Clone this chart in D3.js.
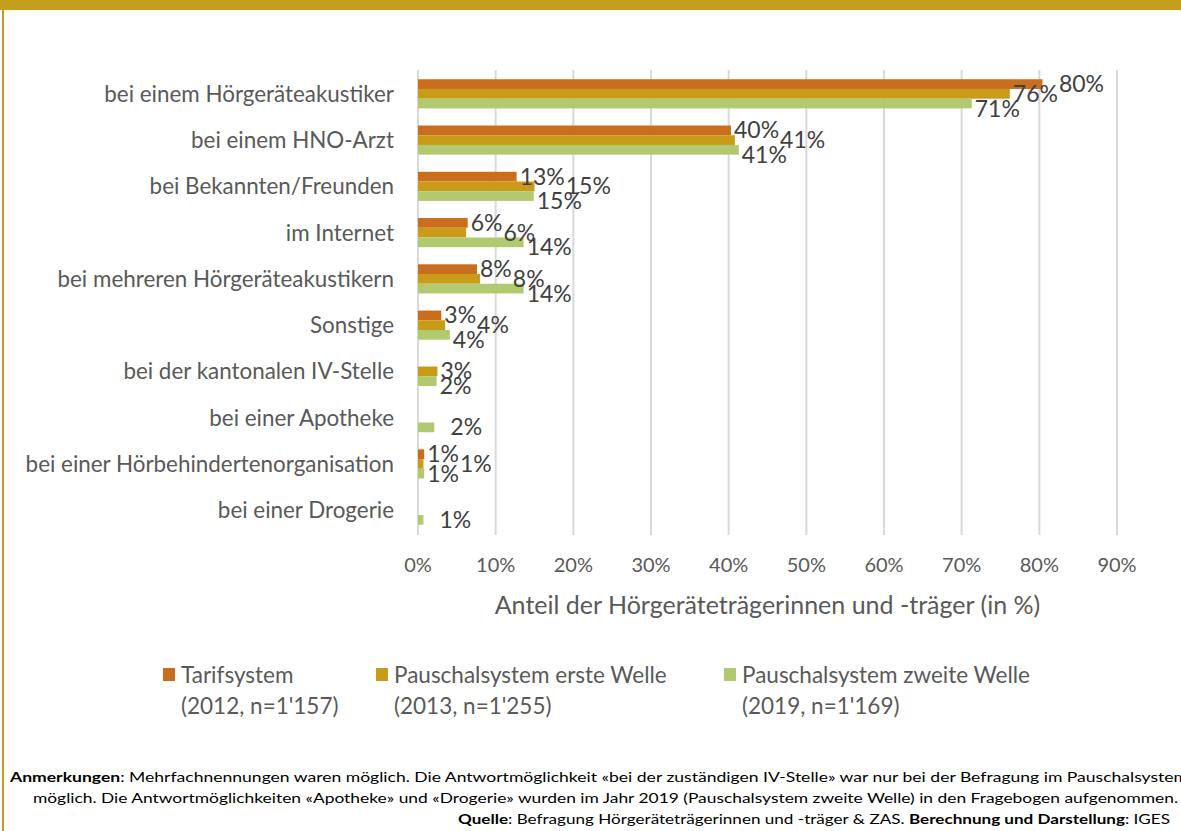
<!DOCTYPE html>
<html>
<head>
<meta charset="utf-8">
<script src="https://cdn.jsdelivr.net/npm/d3@7"></script>
<style>
  body { margin: 0; background: #fff; overflow: hidden; }
  svg { display: block; }
  svg text { font-family: Lato, "Open Sans", sans-serif; }
</style>
</head>
<body>
<svg id="chart" width="1181" height="831"></svg>
<script>
// categories (top to bottom)
const categories = [
  "bei einem Hörgeräteakustiker",
  "bei einem HNO-Arzt",
  "bei Bekannten/Freunden",
  "im Internet",
  "bei mehreren Hörgeräteakustikern",
  "Sonstige",
  "bei der kantonalen IV-Stelle",
  "bei einer Apotheke",
  "bei einer Hörbehindertenorganisation",
  "bei einer Drogerie"
];

// values in %, null = not asked
const tarifsystem = [80.4, 40.3, 12.7, 6.4, 7.6, 3.0, null, null, 0.8, null];
const pauschalErste = [76.2, 40.8, 15.0, 6.2, 8.0, 3.5, 2.5, null, 0.7, null];
const pauschalZweite = [71.3, 41.3, 14.9, 13.6, 13.6, 4.1, 2.4, 2.1, 0.8, 0.7];

const seriesNames = ["Tarifsystem", "Pauschalsystem erste Welle", "Pauschalsystem zweite Welle"];
const seriesSub = ["(2012, n=1'157)", "(2013, n=1'255)", "(2019, n=1'169)"];
const seriesColors = ["#C96D1F", "#C99B19", "#B1CA6F"];
const xTicks = [0, 10, 20, 30, 40, 50, 60, 70, 80, 90];

const svg = d3.select("#chart");

// frame
svg.append("rect").attr("x", 0).attr("y", 0).attr("width", 1181).attr("height", 831).attr("fill", "#fff");
svg.append("rect").attr("x", 0).attr("y", 0).attr("width", 1181).attr("height", 10).attr("fill", "#C39F1C");
svg.append("rect").attr("x", 2).attr("y", 10).attr("width", 2).attr("height", 821).attr("fill", "#C39F1C");

const x = d3.scaleLinear().domain([0, 90]).range([418, 1117]);
const y = d3.scaleBand().domain(categories).range([70, 534]).paddingInner(0.37).paddingOuter(0.2);
const ySub = d3.scaleBand().domain([0, 1, 2]).range([0, y.bandwidth()]);

// gridlines
svg.append("g").selectAll("line").data(xTicks).join("line")
  .attr("x1", d => x(d)).attr("x2", d => x(d))
  .attr("y1", 70).attr("y2", 535)
  .attr("stroke", "#D9D9D9").attr("stroke-width", 2);

// tick labels
svg.append("g").selectAll("text").data(xTicks).join("text")
  .attr("x", d => x(d)).attr("y", 572)
  .attr("text-anchor", "middle")
  .attr("font-size", 20).attr("fill", "#595959")
  .text(d => d + "%");

// axis title
svg.append("text")
  .attr("x", (x(0) + x(90)) / 2).attr("y", 614)
  .attr("text-anchor", "middle")
  .attr("font-size", 25).attr("fill", "#595959")
  .text("Anteil der Hörgeräteträgerinnen und -träger (in %)");

// category labels
svg.append("g").selectAll("text").data(categories).join("text")
  .attr("x", 394).attr("y", d => y(d) + y.bandwidth() / 2 + 8)
  .attr("text-anchor", "end")
  .attr("font-size", 22.4).attr("fill", "#595959")
  .text(d => d);

// bars
const allSeries = [tarifsystem, pauschalErste, pauschalZweite];
const bars = [];
allSeries.forEach((vals, s) => {
  vals.forEach((v, i) => {
    if (v !== null) bars.push({ s, i, v, cat: categories[i] });
  });
});

svg.append("g").selectAll("rect").data(bars).join("rect")
  .attr("x", x(0))
  .attr("y", d => y(d.cat) + ySub(d.s))
  .attr("width", d => x(d.v) - x(0))
  .attr("height", ySub.bandwidth())
  .attr("fill", d => seriesColors[d.s]);

// data labels, pushed sideways / down when they collide (like Excel does)
const labelG = svg.append("g");
const fs = 23;
const overlaps = (a, b) => a.x0 < b.x1 && b.x0 < a.x1 && a.y0 < b.y1 && b.y0 < a.y1;
categories.forEach((cat, i) => {
  const group = bars.filter(b => b.i === i);
  const placed = [];
  const cyOf = b => y(cat) + ySub(b.s) + ySub.bandwidth() / 2;
  const make = b => labelG.append("text")
    .attr("font-size", fs).attr("fill", "#404040")
    .text(Math.round(b.v) + "%");

  if (group.length === 1) {
    const b = group[0];
    make(b).attr("x", x(b.v) + 16).attr("y", cyOf(b) + 8);
    return;
  }
  const firstTwo = group.filter(b => b.s < 2)
    .sort((a, b) => Math.round(a.v) - Math.round(b.v) || a.s - b.s);
  firstTwo.forEach(b => {
    const t = make(b);
    const w = t.node().getComputedTextLength();
    const cy = cyOf(b);
    let bx = x(b.v) + 3;
    let box = { x0: bx, x1: bx + w, y0: cy - 8, y1: cy + 8 };
    placed.forEach(p => {
      if (overlaps(box, p)) { bx = p.x1 + 1; box = { x0: bx, x1: bx + w, y0: cy - 8, y1: cy + 8 }; }
    });
    t.attr("x", bx).attr("y", cy + 8);
    placed.push(box);
  });
  group.filter(b => b.s === 2).forEach(b => {
    const t = make(b);
    const w = t.node().getComputedTextLength();
    const cy = cyOf(b);
    const bx = x(b.v) + 3;
    const box = { x0: bx, x1: bx + w, y0: cy - 8, y1: cy + 8 };
    t.attr("x", bx).attr("y", cy + 8 + (placed.some(p => overlaps(box, p)) ? 5 : 0));
  });
});

// legend
const legX = [163, 376, 724];
const leg = svg.append("g").selectAll("g").data(seriesNames).join("g")
  .attr("transform", (d, i) => `translate(${legX[i]},668)`);
leg.append("rect").attr("width", 12).attr("height", 13).attr("fill", (d, i) => seriesColors[i]);
leg.append("text").attr("x", 18).attr("y", 15)
  .attr("font-size", 22.5).attr("fill", "#595959").text(d => d);
leg.append("text").attr("x", 18).attr("y", 46)
  .attr("font-size", 22.5).attr("fill", "#595959").text((d, i) => seriesSub[i]);

// notes
const note1 = svg.append("text").attr("x", 10).attr("y", 782).attr("font-size", 14)
  .attr("textLength", 1178).attr("lengthAdjust", "spacingAndGlyphs");
note1.append("tspan").attr("font-weight", "bold").text("Anmerkungen");
note1.append("tspan").text(": Mehrfachnennungen waren möglich. Die Antwortmöglichkeit «bei der zuständigen IV-Stelle» war nur bei der Befragung im Pauschalsystem");

svg.append("text").attr("x", 33).attr("y", 803).attr("font-size", 14)
  .attr("textLength", 1145).attr("lengthAdjust", "spacingAndGlyphs")
  .text("möglich. Die Antwortmöglichkeiten «Apotheke» und «Drogerie» wurden im Jahr 2019 (Pauschalsystem zweite Welle) in den Fragebogen aufgenommen.");

const note3 = svg.append("text").attr("x", 458).attr("y", 824).attr("font-size", 14)
  .attr("textLength", 712).attr("lengthAdjust", "spacingAndGlyphs");
note3.append("tspan").attr("font-weight", "bold").text("Quelle");
note3.append("tspan").text(": Befragung Hörgeräteträgerinnen und -träger & ZAS. ");
note3.append("tspan").attr("font-weight", "bold").text("Berechnung und Darstellung");
note3.append("tspan").text(": IGES");
</script>
</body>
</html>
